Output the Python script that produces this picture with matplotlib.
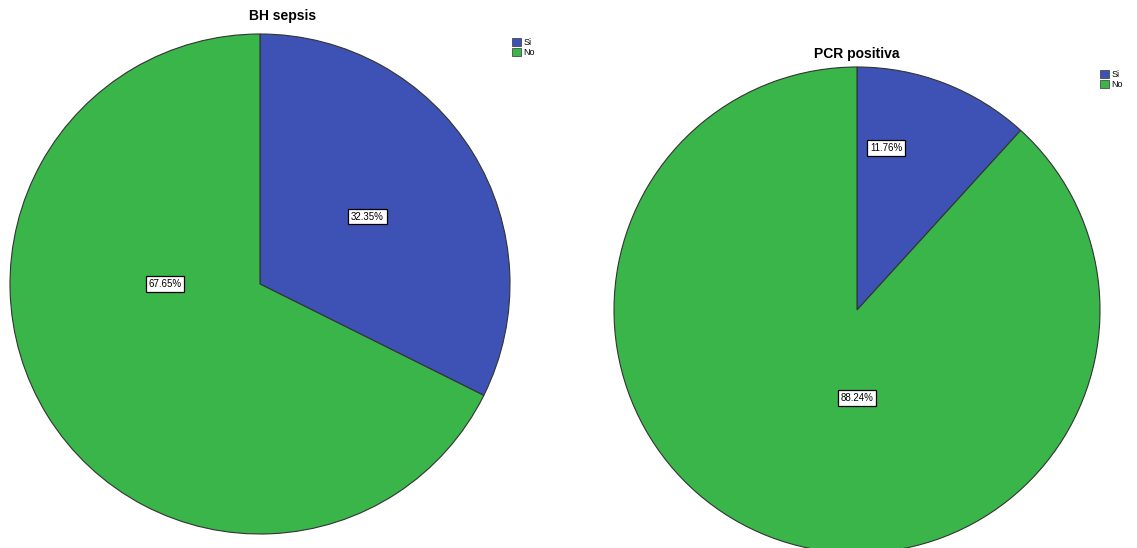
import matplotlib
matplotlib.use("Agg")
from matplotlib import pyplot as plt
from matplotlib.patches import Patch

plt.rcParams['font.family'] = ['Liberation Sans', 'DejaVu Sans']

# data
categories = ["Si", "No"]
bh_sepsis = [32.35, 67.65]
pcr_positiva = [11.76, 88.24]
titles = ["BH sepsis", "PCR positiva"]

colors = ["#3d52b4", "#39b54a"]

W, H = 1137, 548
fig = plt.figure(figsize=(W / 100, H / 100), dpi=100)
fig.patch.set_facecolor("white")


def px_axes(x0, y0, w, h):
    # pixel box (top-left origin) -> figure fraction axes
    return fig.add_axes([x0 / W, (H - y0 - h) / H, w / W, h / H])


def draw_pie(ax, values, label_pos):
    wedges, _ = ax.pie(values, colors=colors, startangle=90, counterclock=False,
                       radius=1.0, wedgeprops=dict(edgecolor="#333333", linewidth=0.8))
    for (lx, ly), v in zip(label_pos, values):
        ax.text(lx, ly, f"{v:.2f}%", ha="center", va="center", fontsize=7,
                bbox=dict(boxstyle="square,pad=0.3", fc="white", ec="black", lw=0.9))
    ax.set_xlim(-1, 1)
    ax.set_ylim(-1, 1)
    ax.set_aspect("equal")
    ax.axis("off")


# label positions (fraction of radius)
left_labels = [(0.43, 0.27), (-0.38, 0.0)]
right_labels = [(0.12, 0.668), (0.0, -0.362)]

ax1 = px_axes(10, 34, 500, 500)
draw_pie(ax1, bh_sepsis, left_labels)
ax2 = px_axes(614, 67, 486, 486)
draw_pie(ax2, pcr_positiva, right_labels)

fig.text(283 / W, 1 - 16 / H, titles[0], ha="center", va="center",
         fontsize=10, fontweight="bold")
fig.text(857 / W, 1 - 54 / H, titles[1], ha="center", va="center",
         fontsize=10, fontweight="bold")

handles = [Patch(facecolor=c, edgecolor="#333333", linewidth=0.5) for c in colors]
for (lx, ly) in [(511, 37), (1099, 69)]:
    fig.legend(handles, categories, loc="upper left",
               bbox_to_anchor=(lx / W, 1 - ly / H), frameon=False, fontsize=6.5,
               handlelength=1.0, handleheight=1.0, handletextpad=0.3,
               labelspacing=0.1, borderpad=0.1, borderaxespad=0)

fig.savefig("out.png", dpi=100, facecolor="white")
